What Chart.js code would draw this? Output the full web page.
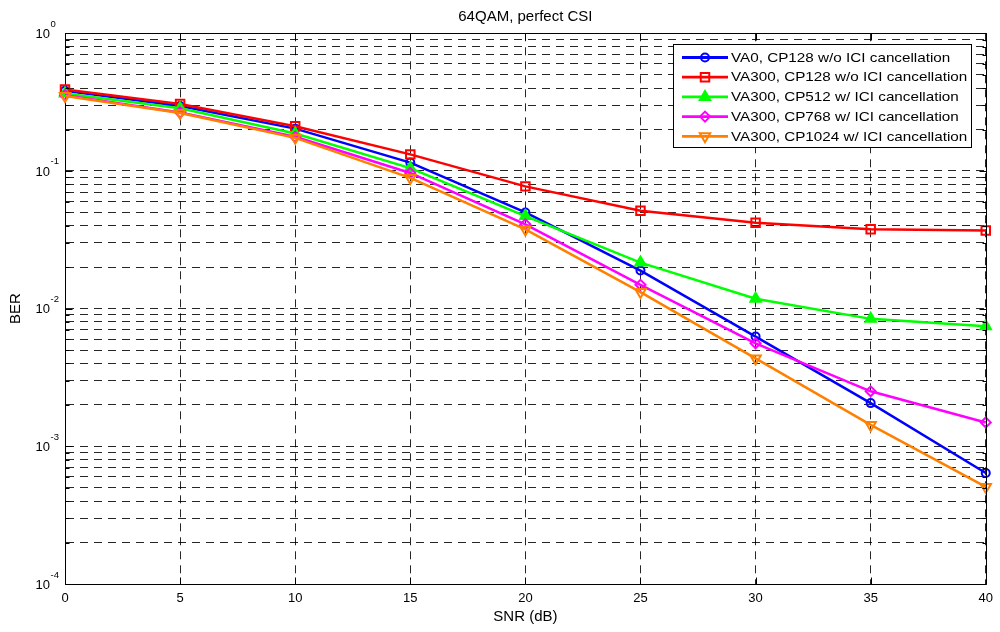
<!DOCTYPE html>
<html>
<head>
<meta charset="utf-8">
<title>64QAM, perfect CSI</title>
<script src="https://cdn.jsdelivr.net/npm/chart.js@4.4.1/dist/chart.umd.min.js"></script>
<style>
  html, body { margin: 0; padding: 0; background: #fff; }
  #wrap { width: 1000px; height: 632px; }
</style>
</head>
<body>
<div id="wrap"><canvas id="berChart" width="1000" height="632"></canvas></div>
<script>
// SNR points (dB)
const snr = [0, 5, 10, 15, 20, 25, 30, 35, 40];

// BER curves
const va0Cp128 = [0.382, 0.296, 0.203, 0.115, 0.050, 0.0189, 0.00627, 0.00206, 0.00064];
const va300Cp128 = [0.391, 0.306, 0.211, 0.132, 0.0773, 0.0515, 0.042, 0.0378, 0.037];
const va300Cp512 = [0.366, 0.285, 0.187, 0.105, 0.047, 0.0216, 0.0118, 0.00843, 0.00745];
const va300Cp768 = [0.355, 0.266, 0.177, 0.0967, 0.041, 0.0149, 0.0056, 0.00251, 0.00149];
const va300Cp1024 = [0.351, 0.264, 0.174, 0.089, 0.0376, 0.0132, 0.00435, 0.00143, 0.000507];

const seriesLabels = [
  "VA0, CP128 w/o ICI cancellation",
  "VA300, CP128 w/o ICI cancellation",
  "VA300, CP512 w/ ICI cancellation",
  "VA300, CP768 w/ ICI cancellation",
  "VA300, CP1024 w/ ICI cancellation",
];

// y axis: decades (exponents) and the minor steps inside each decade
const yDecades = [0, -1, -2, -3, -4];
const yMinorSteps = [2, 3, 4, 5, 6, 7, 8, 9];

const FONT = '"Liberation Sans", Arial, Helvetica, sans-serif';
Chart.defaults.font.family = FONT;
Chart.defaults.color = "#000";

const toPoints = (vals) => snr.map((x, i) => ({ x: x, y: vals[i] }));

function lineSet(label, vals, color, style, radius, filled, rot, idx) {
  return {
    label: label,
    data: toPoints(vals),
    borderColor: color,
    backgroundColor: color,
    borderWidth: 2.5,
    pointStyle: style,
    pointRadius: radius,
    pointHoverRadius: radius,
    pointRotation: rot,
    pointBorderWidth: 2,
    pointBorderColor: color,
    pointBackgroundColor: filled ? color : "rgba(0,0,0,0)",
    tension: 0,
    fill: false,
    clip: false,
    order: -idx,
  };
}

const datasets = [
  lineSet(seriesLabels[0], va0Cp128, "#0000ff", "circle", 4, false, 0, 0),
  lineSet(seriesLabels[1], va300Cp128, "#ff0000", "rect", 6, false, 0, 1),
  lineSet(seriesLabels[2], va300Cp512, "#00ff00", "triangle", 6, true, 0, 2),
  lineSet(seriesLabels[3], va300Cp768, "#ff00ff", "rectRot", 5, false, 0, 3),
  lineSet(seriesLabels[4], va300Cp1024, "#ff8000", "triangle", 6, false, 180, 4),
];

// frame, inward ticks and 10^n labels like the matlab axes
const axesDecor = {
  id: "axesDecor",
  afterDatasetsDraw(chart) {
    const { ctx, chartArea: a, scales } = chart;
    const x = scales.x, y = scales.y;
    ctx.save();
    ctx.setLineDash([]);
    ctx.strokeStyle = "#000";
    ctx.lineWidth = 1;
    const L = Math.round(a.left) + 0.5, R = Math.round(a.right) + 0.5;
    const T = Math.round(a.top) + 0.5, B = Math.round(a.bottom) + 0.5;
    ctx.beginPath();
    ctx.moveTo(L, T); ctx.lineTo(R, T); ctx.lineTo(R, B);
    x.ticks.forEach((t) => {
      const px = Math.round(x.getPixelForValue(t.value)) + 0.5;
      ctx.moveTo(px, B); ctx.lineTo(px, B - 7);
      ctx.moveTo(px, T); ctx.lineTo(px, T + 7);
    });
    y.ticks.forEach((t) => {
      const py = Math.round(y.getPixelForValue(t.value)) + 0.5;
      const len = t.major ? 7 : 4;
      ctx.moveTo(L, py); ctx.lineTo(L + len, py);
      ctx.moveTo(R, py); ctx.lineTo(R - len, py);
    });
    ctx.stroke();

    ctx.fillStyle = "#000";
    yDecades.forEach((e) => {
      const py = y.getPixelForValue(Math.pow(10, e));
      ctx.font = "13px " + FONT;
      ctx.textAlign = "right";
      ctx.textBaseline = "middle";
      ctx.fillText("10", 50, py + 1);
      ctx.font = "9.5px " + FONT;
      ctx.textAlign = "left";
      ctx.textBaseline = "alphabetic";
      ctx.fillText(String(e), 50.5, py - 6.5);
    });
    ctx.restore();
  },
};

const boxLegend = {
  id: "boxLegend",
  afterDraw(chart) {
    const ctx = chart.ctx;
    const bx = 673.5, by = 44.5, bw = 298, bh = 103;
    ctx.save();
    ctx.setLineDash([]);
    ctx.fillStyle = "#fff";
    ctx.fillRect(bx, by, bw, bh);
    ctx.strokeStyle = "#000";
    ctx.lineWidth = 1;
    ctx.strokeRect(bx, by, bw, bh);
    const drawPoint = Chart.helpers && Chart.helpers.drawPoint;
    chart.data.datasets.forEach((ds, i) => {
      const cy = 57.5 + i * 19.7;
      ctx.strokeStyle = ds.borderColor;
      ctx.lineWidth = 2.8;
      ctx.beginPath();
      ctx.moveTo(682, cy);
      ctx.lineTo(728, cy);
      ctx.stroke();
      if (drawPoint) {
        ctx.fillStyle = ds.pointBackgroundColor;
        ctx.strokeStyle = ds.pointBorderColor;
        ctx.lineWidth = ds.pointBorderWidth;
        drawPoint(ctx, {
          pointStyle: ds.pointStyle,
          rotation: ds.pointRotation,
          radius: ds.pointRadius,
          borderWidth: ds.pointBorderWidth,
        }, 705, cy);
      }
      ctx.save();
      ctx.fillStyle = "#000";
      ctx.font = "13.5px " + FONT;
      ctx.textAlign = "left";
      ctx.textBaseline = "middle";
      ctx.translate(731, cy + 0.5);
      ctx.scale(1.13, 1);
      ctx.fillText(ds.label, 0, 0);
      ctx.restore();
    });
    ctx.restore();
  },
};

const gridDash = [8, 6];

new Chart(document.getElementById("berChart"), {
  type: "line",
  data: { datasets: datasets },
  options: {
    responsive: false,
    animation: false,
    devicePixelRatio: 1,
    layout: { padding: { top: 0, right: 9, bottom: 0, left: 0 } },
    plugins: {
      legend: { display: false },
      tooltip: { enabled: false },
      title: {
        display: true,
        text: "64QAM, perfect CSI",
        fullSize: false,
        color: "#000",
        font: { size: 15, weight: "normal" },
        padding: { top: 8, bottom: 7.3 },
      },
    },
    scales: {
      x: {
        type: "linear",
        min: 0,
        max: 40,
        ticks: { stepSize: 5, color: "#000", font: { size: 13 }, padding: 7 },
        grid: { color: "rgba(0,0,0,0.85)", lineWidth: 1, drawTicks: false },
        border: { display: true, color: "#000", width: 1, dash: gridDash },
        title: {
          display: true,
          text: "SNR (dB)",
          color: "#000",
          font: { size: 15 },
          padding: { top: 0, bottom: 6 },
        },
        afterFit(scale) { scale.height = 48; },
      },
      y: {
        type: "logarithmic",
        min: 1e-4,
        max: 1,
        ticks: { display: false },
        grid: { color: "rgba(0,0,0,0.85)", lineWidth: 1, drawTicks: false },
        border: { display: true, color: "#000", width: 1, dash: gridDash },
        title: {
          display: true,
          text: "BER",
          color: "#000",
          font: { size: 15 },
          padding: { top: 6.5, bottom: 0 },
        },
        afterBuildTicks(scale) {
          const ticks = [];
          yDecades.slice().reverse().forEach((e) => {
            const base = Math.pow(10, e);
            ticks.push({ value: base, major: true });
            if (e < 0) yMinorSteps.forEach((m) => ticks.push({ value: m * base, major: false }));
          });
          scale.ticks = ticks;
        },
        afterFit(scale) { scale.width = 65; },
      },
    },
  },
  plugins: [axesDecor, boxLegend],
});
</script>
</body>
</html>
